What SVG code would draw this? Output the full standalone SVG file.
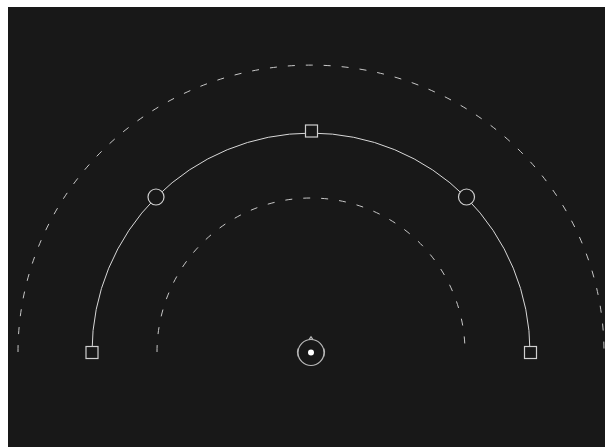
<svg xmlns="http://www.w3.org/2000/svg" width="605" height="447" viewBox="0 0 605 447">
<style>
.dash{fill:none;stroke:#c8c8c8;stroke-width:1;stroke-dasharray:7 11}
.arc{fill:none;stroke:#d8d8d8;stroke-width:1}
.sq{fill:#181818;stroke:#cfcfcf;stroke-width:1.2}
.ci{fill:#181818;stroke:#cfcfcf;stroke-width:1.2}
.head{fill:none;stroke:#b8b8b8;stroke-width:1.2}
</style>
<rect x="0" y="0" width="605" height="447" fill="#ffffff"/>
<rect x="8" y="7" width="597" height="440" fill="#181818"/>
<g id="connectors">
<path class="dash" d="M18 352 A293 287 0 0 1 604 352"/>
<path class="dash" d="M157 352 A154 154 0 0 1 465 352"/>
<path class="arc" d="M92 352 A219 219 0 0 1 530 352"/>
</g>
<g id="node-left"><rect class="sq" x="86" y="346.5" width="12" height="12"/></g>
<g id="node-right"><rect class="sq" x="524.5" y="346.5" width="12" height="12"/></g>
<g id="node-top"><rect class="sq" x="305.5" y="125" width="12" height="12"/></g>
<g id="node-ul"><circle class="ci" cx="156" cy="197" r="8"/></g>
<g id="node-ur"><circle class="ci" cx="466.5" cy="197" r="8"/></g>
<g id="head">
<circle class="head" cx="311" cy="352.5" r="13"/>
<path class="head" d="M309 339.7 L311 336.8 L313 339.7"/>
<path class="head" d="M298.2 348.5 Q296.5 352.5 298.2 356.5"/>
<path class="head" d="M323.8 348.5 Q325.5 352.5 323.8 356.5"/>
<circle cx="311" cy="352.5" r="3" fill="#ffffff"/>
</g>
</svg>
